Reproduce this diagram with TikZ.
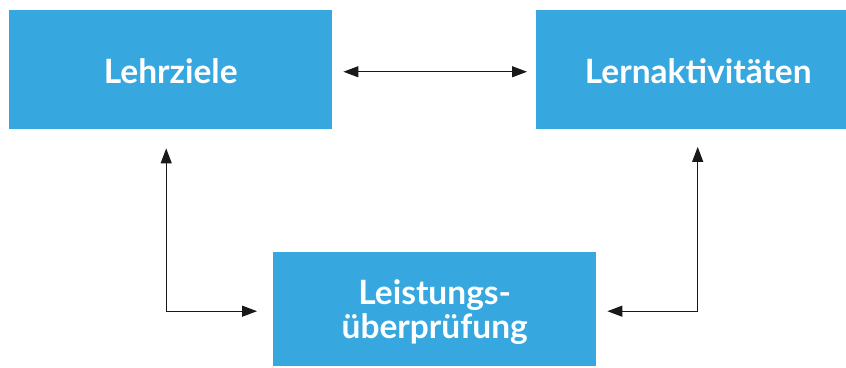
\documentclass[tikz,border=0pt]{standalone}
\usepackage{fontspec}
\setmainfont{Lato}
\usetikzlibrary{arrows.meta,calc}
\definecolor{boxblue}{RGB}{54,168,223}
\begin{document}
\begin{tikzpicture}[x=1pt,y=-1pt,
  box/.style={fill=boxblue,draw=none,inner sep=0pt,anchor=north west},
  label/.style={text=white,font=\fontsize{33.5}{34}\selectfont\bfseries,align=center,inner sep=0pt},
  link/.style={line width=1.2pt,draw=black!90,{Triangle[length=15pt,width=11pt]}-{Triangle[length=15pt,width=11pt]}}]
\useasboundingbox (0,0) rectangle (846,367);
% three boxes
\node[box,minimum width=323pt,minimum height=118.5pt] (lz) at (9,10) {};
\node[box,minimum width=310pt,minimum height=118.5pt] (la) at (536,10) {};
\node[box,minimum width=323pt,minimum height=114pt] (lp) at (273,252) {};
% box captions
\node[label] (lzt) at ($(lz.center)+(0,2)$) {Lehrziele};
\node[label] (lat) at ($(la.center)+(7,2)$) {Lernaktivitäten};
\node[label] (lpt) at ($(lp.center)+(0,3)$) {Leistungs-\\überprüfung};
% connector end points
\coordinate (h1) at ($(lz.east)+(11,2.3)$);
\coordinate (h2) at ($(la.west)+(-9,2.3)$);
\coordinate (v1) at ($(lz.south)+(-4.5,19.5)$);
\coordinate (v2) at ($(lp.west)+(-16,2)$);
\coordinate (w1) at ($(la.south)+(6.5,18)$);
\coordinate (w2) at ($(lp.east)+(11,2)$);
% connectors
\draw[link] (h1) -- (h2);
\draw[link] (v1) |- (v2);
\draw[link] (w1) |- (w2);
\end{tikzpicture}
\end{document}
